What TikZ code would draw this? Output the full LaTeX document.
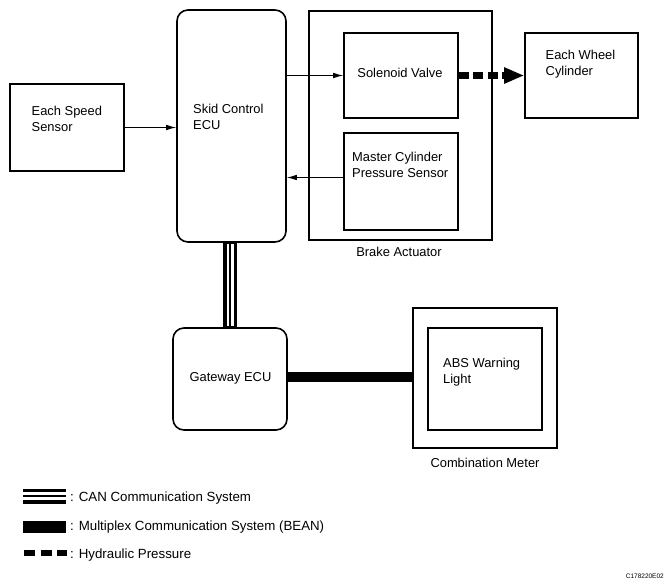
\documentclass[tikz,border=0pt]{standalone}
\usepackage{fontspec}
\setmainfont{Liberation Sans}
\usetikzlibrary{arrows.meta}
\begin{document}
\begin{tikzpicture}[x=1pt,y=-1pt,
  blk/.style={draw, line width=1.6pt, inner sep=0pt},
  ecu/.style={blk, rounded corners=11pt},
  txt/.style={inner sep=0pt, align=left, font=\fontsize{12.9}{16}\selectfont},
  legt/.style={inner sep=0pt, align=left, font=\fontsize{13.3}{16}\selectfont},
  sig/.style={line width=0.9pt, -{Latex[length=10pt,width=5.5pt]}},
  hyd/.style={line width=7pt, dash pattern=on 10pt off 4.5pt, -{Triangle[length=20pt,width=15pt]}},
  bean/.style={line width=10pt},
  canout/.style={line width=13.5pt},
  canmid/.style={line width=7pt, white},
  canin/.style={line width=2pt}]
\useasboundingbox (0,0) rectangle (668,587);
% boxes
\node[ecu, minimum width=109pt, minimum height=232pt] (skid) at (231.5,126) {};
\node[blk, minimum width=183pt, minimum height=229pt] (brake) at (400.5,125.5) {};
\node[blk, minimum width=114pt, minimum height=85pt] (sol) at (401,75.5) {};
\node[blk, minimum width=114pt, minimum height=97pt] (master) at (401,181.5) {};
\node[blk, minimum width=113pt, minimum height=85pt] (wheel) at (581.5,75.5) {};
\node[blk, minimum width=114pt, minimum height=87pt] (speed) at (67,127.5) {};
\node[ecu, minimum width=114pt, minimum height=102pt] (gw) at (230,379) {};
\node[blk, minimum width=144pt, minimum height=140pt] (meter) at (485,378) {};
\node[blk, minimum width=114pt, minimum height=102pt] (abs) at (485,379) {};
% texts
\node[txt, anchor=north west] (skidt) at (193,103.5) {Skid Control\\ECU};
\node[txt, anchor=north west] (speedt) at (31.5,106) {Each Speed\\Sensor};
\node[txt, anchor=base] (solt) at (400,77.5) {Solenoid Valve};
\node[txt, anchor=north west] (mastert) at (352,151.5) {Master Cylinder\\Pressure Sensor};
\node[txt, anchor=north west] (wheelt) at (545.5,49.5) {Each Wheel\\Cylinder};
\node[txt, anchor=base] (braket) at (399,256) {Brake Actuator};
\node[txt, anchor=base] (gwt) at (230.5,381) {Gateway ECU};
\node[txt, anchor=north west] (abst) at (443,357.5) {ABS Warning\\Light};
\node[txt, anchor=base] (metert) at (485,467) {Combination Meter};
% connectors
\draw[sig] (speed.east) -- (speed.east -| skid.west);
\draw[sig] (sol.west -| skid.east) -- (sol.west);
\draw[sig] ([yshift=4pt]master.west) -- ([yshift=4pt]master.west -| skid.east);
\draw[hyd] (sol.east) -- (wheel.west);
\draw[canout] (gw.north) -- (gw.north |- skid.south);
\draw[canmid, shorten <=0.8pt, shorten >=0.8pt] (gw.north) -- (gw.north |- skid.south);
\draw[canin] (gw.north) -- (gw.north |- skid.south);
\draw[bean] ([yshift=2pt]gw.east) -- ([yshift=2pt]gw.east -| meter.west);
% legend
\coordinate (la1) at (23,496); \coordinate (lb1) at (66,496);
\coordinate (la2) at (23,527); \coordinate (lb2) at (66,527);
\coordinate (la3) at (24,553); \coordinate (lb3) at (67,553);
\draw[line width=15pt] (la1) -- (lb1);
\draw[line width=8pt, white] (la1) -- (lb1);
\draw[line width=2.3pt] (la1) -- (lb1);
\draw[line width=12.5pt] (la2) -- (lb2);
\draw[line width=6.5pt, dash pattern=on 11pt off 5.5pt] (la3) -- (lb3);
\node[legt, anchor=base west] (leg1) at (70,501.5) {: CAN Communication System};
\node[legt, anchor=base west] (leg2) at (70,530.5) {: Multiplex Communication System (BEAN)};
\node[legt, anchor=base west] (leg3) at (70,558) {: Hydraulic Pressure};
\node[inner sep=0pt, anchor=base east, font=\fontsize{6.5}{8}\selectfont] (code) at (664,578) {C178220E02};
\end{tikzpicture}
\end{document}
